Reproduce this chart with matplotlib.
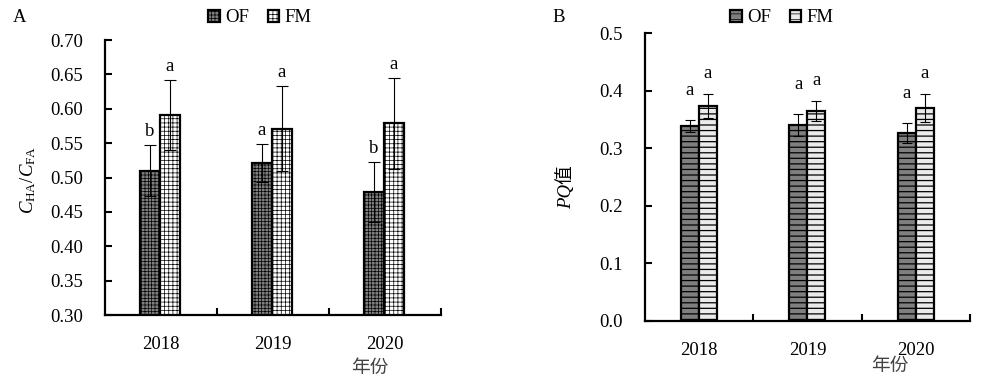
import matplotlib
matplotlib.use("Agg")
import matplotlib.pyplot as plt
import numpy as np

# ---------------- data ----------------
years = ["2018", "2019", "2020"]
series = ["OF", "FM"]

a_of = [0.510, 0.521, 0.479]
a_of_err = [0.037, 0.027, 0.044]
a_fm = [0.591, 0.571, 0.579]
a_fm_err = [0.051, 0.062, 0.066]
a_of_letters = ["b", "a", "b"]
a_fm_letters = ["a", "a", "a"]

b_of = [0.339, 0.341, 0.327]
b_of_err = [0.011, 0.019, 0.017]
b_fm = [0.373, 0.365, 0.370]
b_fm_err = [0.021, 0.018, 0.024]
b_of_letters = ["a", "a", "a"]
b_fm_letters = ["a", "a", "a"]

a_yticks = [0.30, 0.35, 0.40, 0.45, 0.50, 0.55, 0.60, 0.65, 0.70]
b_yticks = [0.0, 0.1, 0.2, 0.3, 0.4, 0.5]

# ---------------- style ----------------
plt.rcParams["font.family"] = ["Liberation Serif", "Noto Sans CJK SC"]
plt.rcParams["mathtext.fontset"] = "custom"
plt.rcParams["mathtext.rm"] = "Liberation Serif"
plt.rcParams["mathtext.it"] = "Liberation Serif:italic"
plt.rcParams["hatch.linewidth"] = 0.5
plt.rcParams["hatch.color"] = "black"

FS = 13.5
fig = plt.figure(figsize=(9.83, 3.90), dpi=100)

axA = fig.add_axes([105 / 983, 1 - 315 / 390, (441 - 105) / 983, (315 - 40) / 390])
axB = fig.add_axes([645 / 983, 1 - 320.7 / 390, (970 - 645) / 983, (320.7 - 33.3) / 390])


def draw(ax, of, of_err, fm, fm_err, of_let, fm_let, w, center, hatches, faces,
         ylim, yticks, fmt, capsize, of_off, fm_off, hlw):
    x = np.arange(len(years)) + center
    bo = ax.bar(x - w / 2, of, w, color=faces[0], edgecolor="black",
                linewidth=1.6, hatch=hatches[0], label=series[0], zorder=2)
    bf = ax.bar(x + w / 2, fm, w, color=faces[1], edgecolor="black",
                linewidth=1.6, hatch=hatches[1], label=series[1], zorder=2)
    for p in list(bo) + list(bf):
        if hasattr(p, "set_hatch_linewidth"):
            p.set_hatch_linewidth(hlw)
    ax.errorbar(x - w / 2, of, yerr=of_err, fmt="none", ecolor="black",
                elinewidth=0.8, capsize=capsize, capthick=0.8, zorder=3)
    ax.errorbar(x + w / 2, fm, yerr=fm_err, fmt="none", ecolor="black",
                elinewidth=0.8, capsize=capsize, capthick=0.8, zorder=3)
    for xi, v, e, t in zip(x - w / 2, of, of_err, of_let):
        ax.annotate(t, (xi, v + e), xytext=(0, of_off), textcoords="offset points",
                    ha="center", va="baseline", fontsize=FS)
    for xi, v, e, t in zip(x + w / 2, fm, fm_err, fm_let):
        ax.annotate(t, (xi, v + e), xytext=(0, fm_off), textcoords="offset points",
                    ha="center", va="baseline", fontsize=FS)
    ax.set_xlim(0, len(years))
    ax.set_ylim(*ylim)
    ax.set_yticks(yticks)
    ax.set_yticklabels([fmt % t for t in yticks], fontsize=FS)
    ax.set_xticks(np.arange(len(years)) + 0.5)
    ax.set_xticklabels(years, fontsize=FS)
    ax.set_xticks(np.arange(1, len(years) + 1), minor=True)
    ax.tick_params(axis="x", which="major", length=0, pad=15)
    ax.tick_params(axis="x", which="minor", direction="in", length=5, width=1.5)
    ax.tick_params(axis="y", which="major", direction="in", length=5, width=1.5, pad=16)
    for s in ["top", "right"]:
        ax.spines[s].set_visible(False)
    for s in ["left", "bottom"]:
        ax.spines[s].set_linewidth(1.6)
    return bo, bf


hA = draw(axA, a_of, a_of_err, a_fm, a_fm_err, a_of_letters, a_fm_letters,
          0.179, 0.491, ["+++++", "++++"], ["#7f7f7f", "white"],
          (0.30, 0.70), a_yticks, "%.2f", 4.3, 6.5, 6.5, 0.5)
hB = draw(axB, b_of, b_of_err, b_fm, b_fm_err, b_of_letters, b_fm_letters,
          0.166, 0.4986, ["---", "---"], ["#7f7f7f", "#ebebeb"],
          (0.0, 0.5), b_yticks, "%.1f", 3.9, 18, 11.5, 0.9)

leg_kw = dict(ncol=2, frameon=False, fontsize=FS, handlelength=0.6,
              handleheight=0.6, handletextpad=0.3, columnspacing=1.0,
              loc="center", borderaxespad=0)
fig.legend(hA, series, bbox_to_anchor=(260 / 983, 1 - 18 / 390), **leg_kw)
fig.legend(hB, series, bbox_to_anchor=(782 / 983, 1 - 18 / 390), **leg_kw)

# panel letters
fig.text(20 / 983, 1 - 18 / 390, "A", fontsize=FS, ha="center", va="center")
fig.text(559 / 983, 1 - 18 / 390, "B", fontsize=FS, ha="center", va="center")

# y labels
fig.text(28 / 983, 1 - 180 / 390, r"$C_{\mathrm{HA}}/C_{\mathrm{FA}}$", fontsize=FS,
         rotation=90, ha="center", va="center")
fig.text(566 / 983, 1 - 187 / 390, "PQ值", fontsize=FS, style="italic",
         rotation=90, ha="center", va="center")

# x labels
fig.text(370 / 983, 1 - 367 / 390, "年份", fontsize=FS, color="#444444",
         family=["Noto Sans CJK SC"], ha="center", va="center")
fig.text(890 / 983, 1 - 365 / 390, "年份", fontsize=FS, color="#444444",
         family=["Noto Sans CJK SC"], ha="center", va="center")

fig.savefig("out.png", dpi=100)
